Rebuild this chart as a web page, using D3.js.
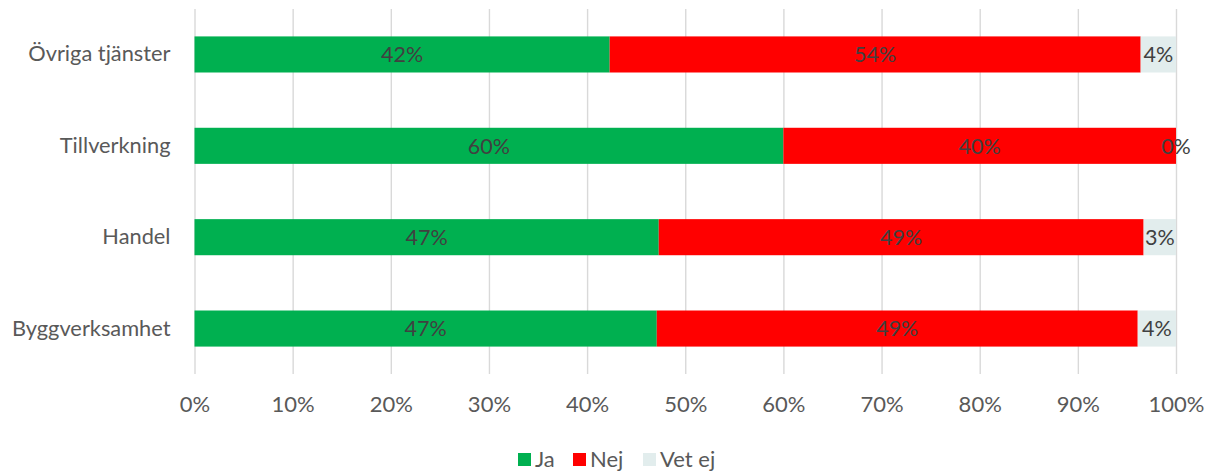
<!DOCTYPE html>
<html><head><meta charset="utf-8">
<script src="https://cdn.jsdelivr.net/npm/d3@7"></script>
<style>
html,body{margin:0;padding:0;background:#fff;}
svg{display:block;font-family:Lato,"Open Sans",sans-serif;}
</style></head>
<body>
<svg id="chart" width="1206" height="471"></svg>
<script>
const categories = ["Övriga tjänster", "Tillverkning", "Handel", "Byggverksamhet"];
const seriesNames = ["Ja", "Nej", "Vet ej"];
const ja    = [42.3, 60.0, 47.3, 47.1];
const nej   = [54.1, 40.0, 49.4, 49.0];
const vetEj = [3.6, 0.0, 3.3, 3.9];
const labelsJa  = ["42%", "60%", "47%", "47%"];
const labelsNej = ["54%", "40%", "49%", "49%"];
const labelsVet = ["4%", "0%", "3%", "4%"];
const tickValues = [0,10,20,30,40,50,60,70,80,90,100];
const colors = ["#00b050", "#ff0000", "#e2eded"];

const FONT = "Lato, 'Open Sans', sans-serif";
const svg = d3.select("#chart");
const m = {left:194.5, right:30, top:9, bottom:97};
const W = 1206, H = 471;
const x = d3.scaleLinear().domain([0,100]).range([m.left, W - m.right]);
const y = d3.scaleBand().domain(categories).range([m.top, H - m.bottom]).paddingInner(0.605).paddingOuter(0.3);

// gridlines
const grid = svg.append("g")
  .attr("transform", `translate(0,${H - m.bottom})`)
  .call(d3.axisBottom(x).tickValues(tickValues).tickSize(-(H - m.bottom - m.top)).tickFormat(""));
grid.select(".domain").remove();
grid.selectAll("line").attr("stroke", "#d9d9d9").attr("stroke-width", 1.4);

// x axis labels
const xa = svg.append("g")
  .attr("transform", `translate(0,${H - m.bottom})`)
  .call(d3.axisBottom(x).tickValues(tickValues).tickSize(0).tickPadding(22).tickFormat(d => d + "%"));
xa.select(".domain").remove();
xa.selectAll("text").attr("fill", "#595959").style("font-size", "22px").style("font-family", FONT);

// y axis labels
const ya = svg.append("g")
  .attr("transform", `translate(${m.left},0)`)
  .call(d3.axisLeft(y).tickSize(0).tickPadding(24));
ya.select(".domain").remove();
ya.selectAll("text").attr("fill", "#595959").style("font-size", "21.8px").style("font-family", FONT);

// stacked data
const rows = categories.map((c,i) => ({cat:c, "Ja":ja[i], "Nej":nej[i], "Vet ej":vetEj[i]}));
const stack = d3.stack().keys(seriesNames)(rows);
const labelArrs = [labelsJa, labelsNej, labelsVet];

stack.forEach((layer, li) => {
  const g = svg.append("g");
  g.selectAll("rect").data(layer).join("rect")
    .attr("x", d => x(d[0]))
    .attr("y", d => y(d.data.cat))
    .attr("width", d => x(d[1]) - x(d[0]))
    .attr("height", y.bandwidth())
    .attr("fill", colors[li]);
  g.selectAll("text").data(layer).join("text")
    .attr("x", d => (x(d[0]) + x(d[1])) / 2)
    .attr("y", d => y(d.data.cat) + y.bandwidth()/2)
    .attr("dy", "0.36em")
    .attr("text-anchor", "middle")
    .attr("fill", "#404040")
    .style("font-size", "21.5px")
    .style("font-family", FONT)
    .text((d,i) => labelArrs[li][i]);
});

// legend
const legendItems = [{n:"Ja", x:518}, {n:"Nej", x:573}, {n:"Vet ej", x:643}];
const lg = svg.append("g");
legendItems.forEach((it, i) => {
  lg.append("rect").attr("x", it.x).attr("y", 453).attr("width", 13).attr("height", 13).attr("fill", colors[i]);
  lg.append("text").attr("x", it.x + 17).attr("y", 459.5).attr("dy", "0.36em")
    .attr("fill", "#595959").style("font-size", "22px").style("font-family", FONT).text(seriesNames[i]);
});
</script>
</body></html>
